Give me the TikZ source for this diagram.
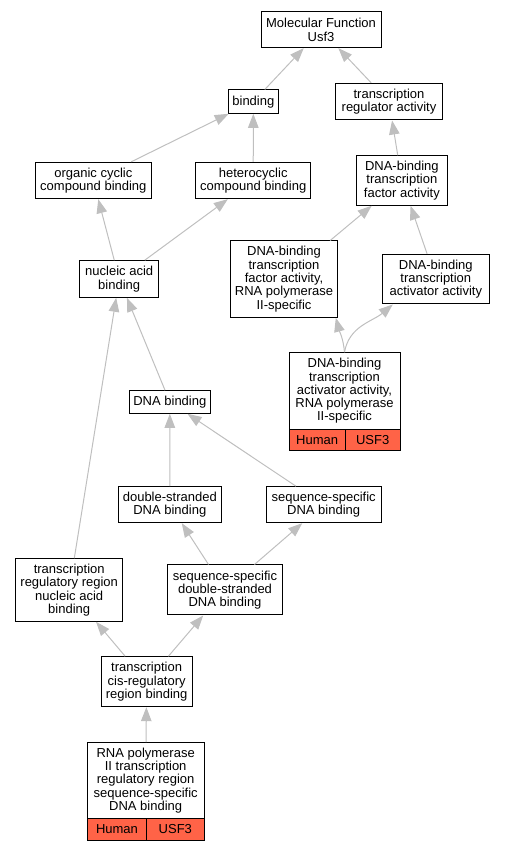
\documentclass[tikz,border=0pt]{standalone}
\usepackage{fontspec}
\setmainfont{Liberation Sans}
\usetikzlibrary{arrows.meta}
\definecolor{tomato}{HTML}{FF6347}
\begin{document}
\begin{tikzpicture}[x=1bp,y=1bp,font=\fontsize{13bp}{13.3bp}\selectfont,
	term/.style={draw,line width=1bp,inner sep=0pt,align=center},
	cell/.style={term,fill=tomato},
	edge/.style={draw=black!25,line width=1bp,-{Triangle[length=14bp,width=10.5bp]}}]
	\useasboundingbox (0,0) rectangle (505,851);
	% top levels
	\node[term,minimum width=120bp,minimum height=35.7bp] (mf) at (321,821.2) {Molecular Function\\Usf3};
	\node[term,minimum width=50.7bp,minimum height=23.3bp] (bind) at (253.35,749.35) {binding};
	\node[term,minimum width=106.6bp,minimum height=36.7bp] (treg) at (389,749.35) {transcription\\regulator activity};
	\node[term,minimum width=115.3bp,minimum height=36.4bp] (org) at (93.35,670.5) {organic cyclic\\compound binding};
	\node[term,minimum width=115bp,minimum height=36.4bp] (het) at (253.2,670.5) {heterocyclic\\compound binding};
	\node[term,minimum width=90.3bp,minimum height=49.6bp] (tfa) at (401.85,670.5) {DNA-binding\\transcription\\factor activity};
	\node[term,minimum width=79bp,minimum height=36.6bp] (nuc) at (119.2,572) {nucleic acid\\binding};
	\node[term,minimum width=106.6bp,minimum height=76.3bp] (tfpol) at (284,571.85) {DNA-binding\\transcription\\factor activity,\\RNA polymerase\\II-specific};
	\node[term,minimum width=107bp,minimum height=49.7bp] (act) at (435.8,571.85) {DNA-binding\\transcription\\activator activity};
	% annotated term, right
	\node[term,minimum width=111bp,minimum height=76.6bp] (actpol) at (344.5,460) {DNA-binding\\transcription\\activator activity,\\RNA polymerase\\II-specific};
	\node[cell,minimum width=56.3bp,minimum height=21.4bp] (acthum) at (317.15,411) {Human};
	\node[cell,minimum width=54.7bp,minimum height=21.4bp] (actusf) at (372.65,411) {USF3};
	% lower levels
	\node[term,minimum width=81.7bp,minimum height=22.6bp] (dnab) at (169.85,449) {DNA binding};
	\node[term,minimum width=103bp,minimum height=36bp] (dsb) at (169.8,346.3) {double-stranded\\DNA binding};
	\node[term,minimum width=114.7bp,minimum height=36bp] (ssb) at (323.65,346.3) {sequence-specific\\DNA binding};
	\node[term,minimum width=107bp,minimum height=62.6bp] (trrb) at (69.2,261) {transcription\\regulatory region\\nucleic acid\\binding};
	\node[term,minimum width=115.4bp,minimum height=50bp] (ssds) at (225,261) {sequence-specific\\double-stranded\\DNA binding};
	\node[term,minimum width=91.3bp,minimum height=50bp] (cis) at (146.65,169.3) {transcription\\cis-regulatory\\region binding};
	% annotated term, bottom
	\node[term,minimum width=116.7bp,minimum height=75.6bp] (rpol) at (145.65,70.5) {RNA polymerase\\II transcription\\regulatory region\\sequence-specific\\DNA binding};
	\node[cell,minimum width=59.4bp,minimum height=22.4bp] (rpolhum) at (117,21.5) {Human};
	\node[cell,minimum width=57.3bp,minimum height=22.4bp] (rpolusf) at (175.35,21.5) {USF3};
	% is_a edges
	\foreach \a/\b in {bind/mf,treg/mf,org/bind,het/bind,tfa/treg,nuc/org,nuc/het,
		tfpol/tfa,act/tfa,dnab/nuc,trrb/nuc,dsb/dnab,ssb/dnab,ssds/dsb,ssds/ssb,
		cis/trrb,cis/ssds,rpol/cis}
	\draw[edge] (\a) -- (\b);
	\draw[edge] (actpol.north) to[out=95,in=-75] ([xshift=-2bp]tfpol.south east);
	\draw[edge] (actpol.north) to[out=80,in=-140] ([xshift=11bp]act.south west);
\end{tikzpicture}
\end{document}
